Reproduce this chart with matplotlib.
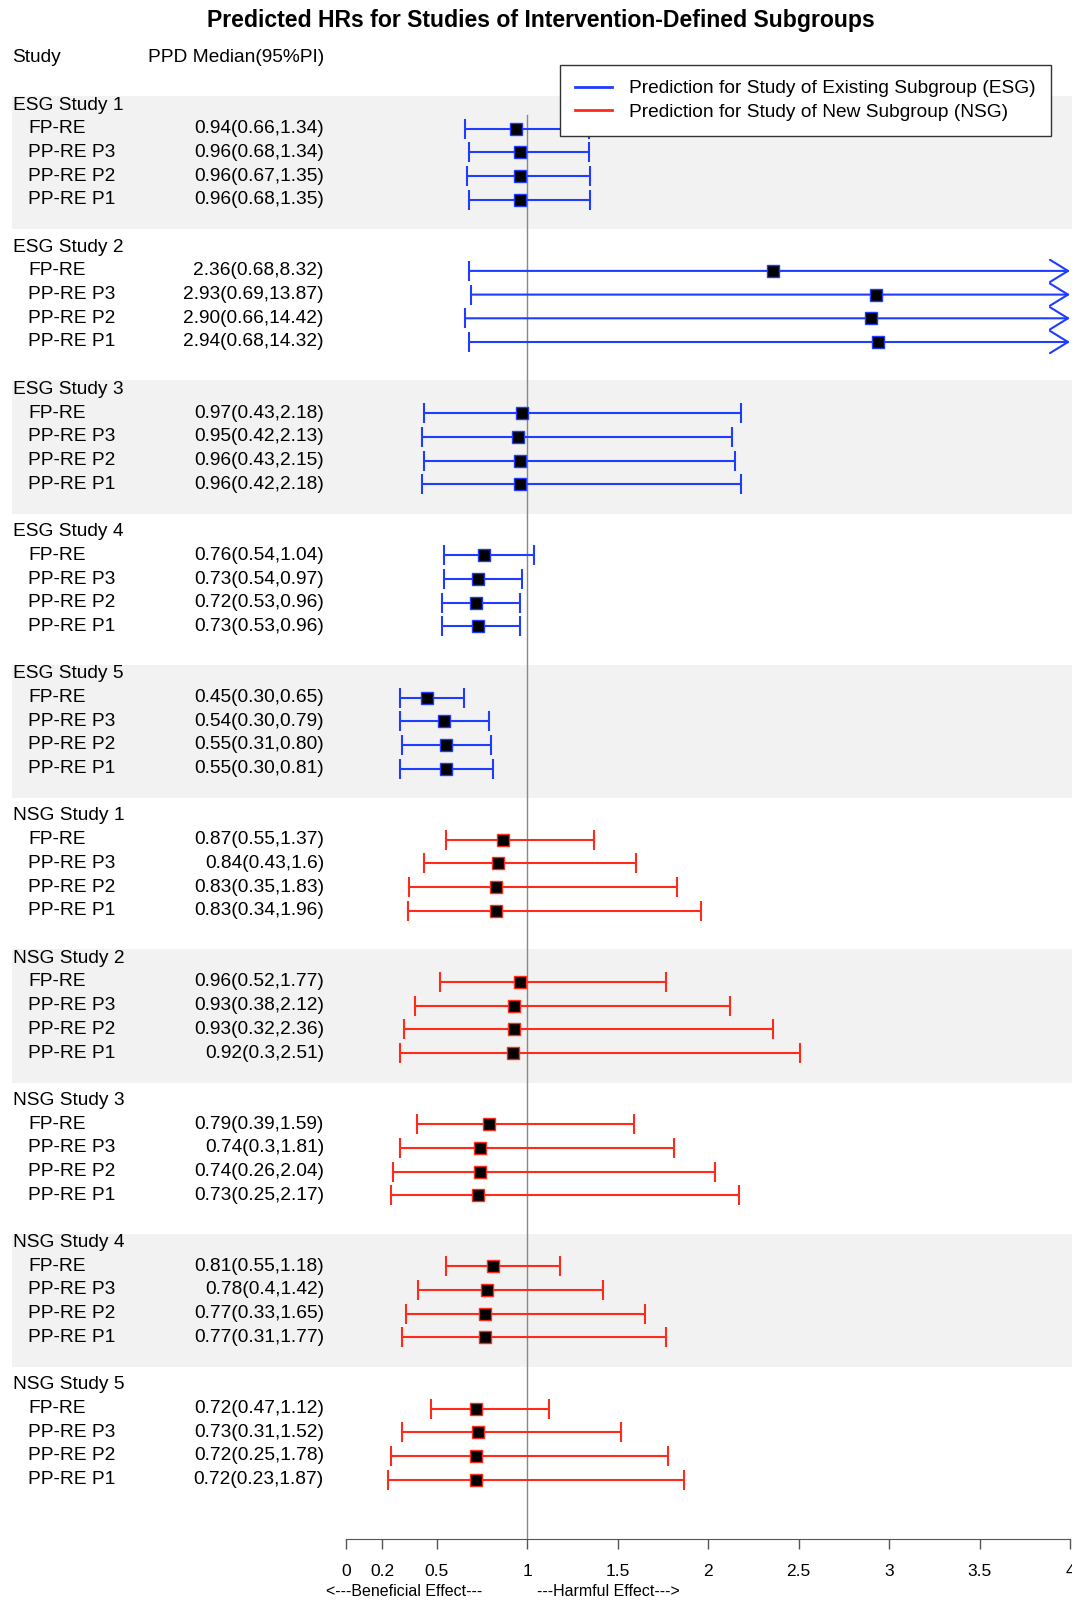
import re
import numpy as np
import matplotlib.pyplot as plt
from matplotlib.lines import Line2D
from matplotlib.transforms import blended_transform_factory

plt.rcParams['font.family'] = ['Liberation Sans', 'DejaVu Sans']

# data: median(95% PI) per study, per model
groups = ['ESG Study 1', 'ESG Study 2', 'ESG Study 3', 'ESG Study 4', 'ESG Study 5',
          'NSG Study 1', 'NSG Study 2', 'NSG Study 3', 'NSG Study 4', 'NSG Study 5']
models = ['FP-RE', 'PP-RE P3', 'PP-RE P2', 'PP-RE P1']

esg1 = ['0.94(0.66,1.34)', '0.96(0.68,1.34)', '0.96(0.67,1.35)', '0.96(0.68,1.35)']
esg2 = ['2.36(0.68,8.32)', '2.93(0.69,13.87)', '2.90(0.66,14.42)', '2.94(0.68,14.32)']
esg3 = ['0.97(0.43,2.18)', '0.95(0.42,2.13)', '0.96(0.43,2.15)', '0.96(0.42,2.18)']
esg4 = ['0.76(0.54,1.04)', '0.73(0.54,0.97)', '0.72(0.53,0.96)', '0.73(0.53,0.96)']
esg5 = ['0.45(0.30,0.65)', '0.54(0.30,0.79)', '0.55(0.31,0.80)', '0.55(0.30,0.81)']
nsg1 = ['0.87(0.55,1.37)', '0.84(0.43,1.6)', '0.83(0.35,1.83)', '0.83(0.34,1.96)']
nsg2 = ['0.96(0.52,1.77)', '0.93(0.38,2.12)', '0.93(0.32,2.36)', '0.92(0.3,2.51)']
nsg3 = ['0.79(0.39,1.59)', '0.74(0.3,1.81)', '0.74(0.26,2.04)', '0.73(0.25,2.17)']
nsg4 = ['0.81(0.55,1.18)', '0.78(0.4,1.42)', '0.77(0.33,1.65)', '0.77(0.31,1.77)']
nsg5 = ['0.72(0.47,1.12)', '0.73(0.31,1.52)', '0.72(0.25,1.78)', '0.72(0.23,1.87)']
values = [esg1, esg2, esg3, esg4, esg5, nsg1, nsg2, nsg3, nsg4, nsg5]

xticks = [0, 0.2, 0.5, 1, 1.5, 2, 2.5, 3, 3.5, 4]
xticklabels = ['0', '0.2', '0.5', '1', '1.5', '2', '2.5', '3', '3.5', '4']

blue = '#1f3cff'
red = '#ff2a1a'
band = '#f2f2f2'
fs = 13.8

W, H = 1072, 1600
fig = plt.figure(figsize=(W / 100, H / 100), dpi=100)

# axes spans full width; data x=0 at px 346, x=4 at px 1070
x0px, unit = 346, 181
ax = fig.add_axes([0, 61 / H, 1, 1 - 61 / H])
ax.set_xlim(-x0px / unit, (W - x0px) / unit)
row_h = 23.7
top_px = 105
ax.set_ylim((H - 61 - top_px) / row_h, -top_px / row_h)

for s in ['left', 'right', 'top']:
    ax.spines[s].set_visible(False)
ax.spines['bottom'].set_bounds(0, 4)
ax.spines['bottom'].set_color('#555555')
ax.set_yticks([])
ax.set_xticks(xticks)
ax.set_xticklabels(xticklabels, fontsize=12.5)
ax.tick_params(axis='x', length=7, width=1, color='#555555', pad=11)

tr = blended_transform_factory(fig.transFigure, ax.transData)

for g, (name, vals) in enumerate(zip(groups, values)):
    y0 = g * 6
    color = blue if name.startswith('ESG') else red
    if g % 2 == 0:
        ax.axhspan(y0 - 0.38, y0 + 5.25, xmin=12 / W, xmax=1, color=band, lw=0, zorder=0)
    ax.text(13 / W, y0, name, transform=tr, fontsize=fs, va='center', ha='left')
    for i, (m, v) in enumerate(zip(models, vals)):
        y = y0 + 1 + i
        med, lo, hi = [float(t) for t in re.findall(r'[\d.]+', v)]
        ax.text(28 / W, y, m, transform=tr, fontsize=fs, va='center', ha='left')
        ax.text(324 / W, y, v, transform=tr, fontsize=fs, va='center', ha='right')
        if hi > 4:
            # interval runs off the axis: open arrow at the edge
            ax.annotate('', xy=(4, y), xytext=(lo, y),
                        arrowprops=dict(arrowstyle='->,head_length=13,head_width=8',
                                        color=color, lw=1.5, shrinkA=0, shrinkB=0,
                                        mutation_scale=1), zorder=3)
            ax.plot([lo], [y], '|', color=color, ms=15, mew=1.5, zorder=3)
        else:
            ax.errorbar(med, y, xerr=[[med - lo], [hi - med]], fmt='none',
                        ecolor=color, elinewidth=1.5, capsize=7.5, capthick=1.5, zorder=3)
        ax.plot(med, y, 's', mfc='black', mec=color, ms=8.5, mew=1, zorder=4)

# reference line at HR = 1
ax.plot([1, 1], [0.42, ax.get_ylim()[0]], color='#888888', lw=1, zorder=2)

# headers
fig.text(541 / W, 1 - 21 / H, 'Predicted HRs for Studies of Intervention-Defined Subgroups',
         ha='center', va='center', fontsize=16.6, fontweight='bold')
fig.text(12 / W, 1 - 58 / H, 'Study', fontsize=fs, va='center', ha='left')
fig.text(148 / W, 1 - 58 / H, 'PPD Median(95%PI)', fontsize=fs, va='center', ha='left')

fig.text(482 / W, 1 - 1591 / H, '<---Beneficial Effect---', fontsize=11.5, va='center', ha='right')
fig.text(537 / W, 1 - 1591 / H, '---Harmful Effect--->', fontsize=11.5, va='center', ha='left')

handles = [Line2D([], [], color=blue, lw=2), Line2D([], [], color=red, lw=2)]
leg = ax.legend(handles, ['Prediction for Study of Existing Subgroup (ESG)',
                          'Prediction for Study of New Subgroup (NSG)'],
                loc='upper left', bbox_to_anchor=(560 / W, 1 - 65 / H),
                bbox_transform=fig.transFigure, fontsize=fs, frameon=True,
                fancybox=False, framealpha=1, edgecolor='#333333',
                borderaxespad=0, borderpad=0.78, handlelength=1.93,
                handletextpad=0.89, labelspacing=0.33)
leg.get_frame().set_linewidth(1)
leg.set_zorder(10)

fig.savefig('out.png', dpi=100)
